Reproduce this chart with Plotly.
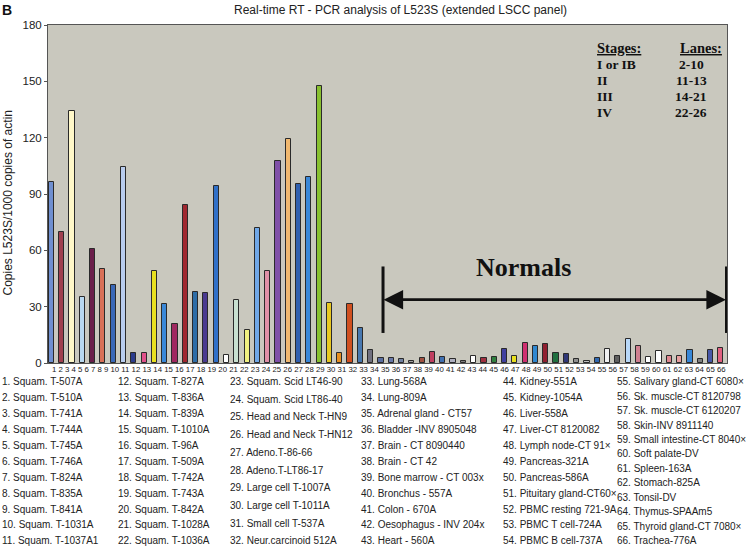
import plotly.graph_objects as go

# ---------------- data ----------------
lanes = list(range(1, 67))
lane_labels = [str(i) for i in lanes]

values = [
    96.3, 69.9, 134.1, 35.3, 60.5, 50.2, 41.7, 104.5, 5.4, 5.4,
    49.0, 31.4, 20.6, 84.1, 37.8, 37.4, 94.0, 4.1, 33.6, 17.8,
    71.7, 48.8, 107.5, 119.4, 95.4, 99.3, 147.4, 31.8, 5.4, 31.2,
    18.5, 7.1,
    2.7, 2.5, 2.3, 1.0, 2.7, 5.7, 3.2, 1.9, 1.2, 3.6,
    2.7, 3.0, 7.5, 3.9, 10.7, 8.9, 10.3, 5.4, 5.0, 1.9,
    1.0, 2.7, 7.7, 3.9, 13.0, 9.3, 3.2, 6.6, 3.9, 3.9,
    7.1, 1.9, 7.1, 8.0,
]

bar_colors = [
    "#6f8fd0", "#a0404f", "#fff8c8", "#b8d8f0", "#6a1e4a", "#d87058", "#3a68b8", "#b8ccee", "#2c3c8c", "#e0508a",
    "#e8e020", "#3a88d8", "#a02860", "#a02830", "#2e6ea8", "#4a3a90", "#3070c8", "#ffffff", "#c8e0d0", "#f0f080",
    "#70a8e8", "#e090a8", "#8050a8", "#f0b870", "#3060b0", "#3a88d8", "#88c030", "#e8c820", "#e89020", "#d05020",
    "#4878b0", "#707080",
    "#5a6ea0", "#6878a8", "#7080a0", "#a0a0a0", "#a05040", "#c04060", "#4070b0", "#b0b0c0", "#808080", "#ffffff",
    "#a03040", "#308040", "#4040a0", "#e8e020", "#d03070", "#3088d0", "#902030", "#207040", "#303878", "#909090",
    "#c0c0c0", "#3068b0", "#f0f0f0", "#606060", "#b8d8f8", "#d08090", "#ffffff", "#ffffff", "#e08890", "#e8a0a0",
    "#3888d8", "#808080", "#4858a8", "#e06080",
]

sample_names = [
    "Squam. T-507A", "Squam. T-510A", "Squam. T-741A", "Squam. T-744A", "Squam. T-745A",
    "Squam. T-746A", "Squam. T-824A", "Squam. T-835A", "Squam. T-841A", "Squam. T-1031A",
    "Squam. T-1037A1", "Squam. T-827A", "Squam. T-836A", "Squam. T-839A", "Squam. T-1010A",
    "Squam. T-96A", "Squam. T-509A", "Squam. T-742A", "Squam. T-743A", "Squam. T-842A",
    "Squam. T-1028A", "Squam. T-1036A", "Squam. Scid LT46-90", "Squam. Scid LT86-40",
    "Head and Neck T-HN9", "Head and Neck T-HN12", "Adeno.T-86-66", "Adeno.T-LT86-17",
    "Large cell T-1007A", "Large cell T-1011A", "Small cell T-537A", "Neur.carcinoid 512A",
    "Lung-568A", "Lung-809A", "Adrenal gland - CT57", "Bladder -INV 8905048",
    "Brain - CT 8090440", "Brain - CT 42", "Bone marrow - CT 003x", "Bronchus - 557A",
    "Colon - 670A", "Oesophagus - INV 204x", "Heart - 560A", "Kidney-551A", "Kidney-1054A",
    "Liver-558A", "Liver-CT 8120082", "Lymph node-CT 91×", "Pancreas-321A", "Pancreas-586A",
    "Pituitary gland-CT60×", "PBMC resting 721-9A", "PBMC T cell-724A", "PBMC B cell-737A",
    "Salivary gland-CT 6080×", "Sk. muscle-CT 8120798", "Sk. muscle-CT 6120207",
    "Skin-INV 8911140", "Small intestine-CT 8040×", "Soft palate-DV", "Spleen-163A",
    "Stomach-825A", "Tonsil-DV", "Thymus-SPAAm5", "Thyroid gland-CT 7080×", "Trachea-776A",
]

column_sizes = [11, 11, 10, 11, 11, 12]

stages = ["I or IB", "II", "III", "IV"]
stage_lanes = ["2-10", "11-13", "14-21", "22-26"]

y_ticks = [0, 30, 60, 90, 120, 150, 180]

# ---------------- layout helpers ----------------
W, H = 749, 553
PL, PR, PT, PB = 48.3, 727.3, 25.0, 363.4


def px_x(px):
    return (px - PL) / (PR - PL)


def px_y(py):
    return (PB - py) / (PB - PT)


def label(text, x, y, size, family, xanchor="left", color="#222", **kw):
    return dict(text=text, x=px_x(x), y=px_y(y), xref="paper", yref="paper",
                xanchor=xanchor, yanchor="middle", showarrow=False,
                font=dict(family=family, size=size, color=color), **kw)


fig = go.Figure()
fig.add_trace(go.Bar(
    x=lanes, y=values, width=0.5,
    marker=dict(color=bar_colors, line=dict(color="#2a2a2a", width=1)),
    hoverinfo="x+y",
))

sans = "Liberation Sans, Arial"
serif = "Liberation Serif, Times New Roman"
ann = []
# title + panel letter
ann.append(label("Real-time RT - PCR analysis of L523S (extended LSCC panel)", 401, 10, 12, sans,
                 xanchor="center"))
ann.append(label("<b>B</b>", 0, 10, 14, sans, color="#111"))
# y axis title
ann.append(label("Copies L523S/1000 copies of actin", 8, 203, 12, sans, xanchor="center",
                 textangle=-90))
# lane number row
ann.append(label(" ".join(lane_labels), 50, 369.5, 7.8, sans))

# sample list
col_x = [0, 116.5, 228.5, 359, 501.5, 615.5]
idx = 0
for c, n in enumerate(column_sizes):
    for r in range(n):
        py = 382 + (541.5 - 382) * r / (n - 1)
        ann.append(label(f"{idx + 1}. {sample_names[idx]}", col_x[c], py, 10, sans))
        idx += 1

# stages table
ann.append(label("<b><u>Stages:</u></b>", 595, 48, 14.5, serif, color="#111"))
ann.append(label("<b><u>Lanes:</u></b>", 678, 48, 14.5, serif, color="#111"))
for i, (s, l) in enumerate(zip(stages, stage_lanes)):
    py = 65 + i * 15.8
    ann.append(label(f"<b>{s}</b>", 595, py, 13.5, serif, color="#111"))
    ann.append(label(f"<b>{l}</b>", 691.5, py, 13.5, serif, xanchor="center", color="#111"))

# Normals label + arrow
ann.append(label("<b>Normals</b>", 524, 268, 26, serif, xanchor="center", color="#111"))
x_left, x_right, y_arrow = 33.2, 66.55, 33.7
for xe, xa in ((x_left + 0.05, x_left + 2.0), (x_right - 0.05, x_right - 2.0)):
    ann.append(dict(x=xe, y=y_arrow, ax=xa, ay=y_arrow, xref="x", yref="y", axref="x", ayref="y",
                    text="", showarrow=True, arrowhead=2, arrowsize=1.4, arrowwidth=2.8,
                    arrowcolor="#111"))

shapes = [dict(type="line", xref="x", yref="y", x0=x_left + 1.0, x1=x_right - 1.0,
               y0=y_arrow, y1=y_arrow, line=dict(color="#111", width=2.8))]
for xe in (x_left, x_right):
    shapes.append(dict(type="line", xref="x", yref="y", x0=xe, x1=xe, y0=16, y1=51.4,
                       line=dict(color="#111", width=3)))

fig.update_layout(
    width=W, height=H,
    margin=dict(l=PL, r=W - PR, t=PT, b=H - PB),
    paper_bgcolor="white", plot_bgcolor="#c9c8be",
    showlegend=False, bargap=0,
    annotations=ann, shapes=shapes,
    font=dict(family=sans, color="#222"),
)
fig.update_xaxes(range=[0.67, 66.6], showticklabels=False, showgrid=False, zeroline=False,
                 showline=True, linecolor="#555", linewidth=1, mirror=True, ticks="")
fig.update_yaxes(range=[0, 180], tickvals=y_ticks, showgrid=False, zeroline=False,
                 showline=True, linecolor="#555", linewidth=1, mirror=True,
                 ticks="outside", ticklen=3, tickcolor="#555",
                 tickfont=dict(size=11.5, color="#222"))

fig.write_html("out.html", config={"displayModeBar": False},
               post_script="document.body.style.margin='0';document.body.style.padding='0';")
